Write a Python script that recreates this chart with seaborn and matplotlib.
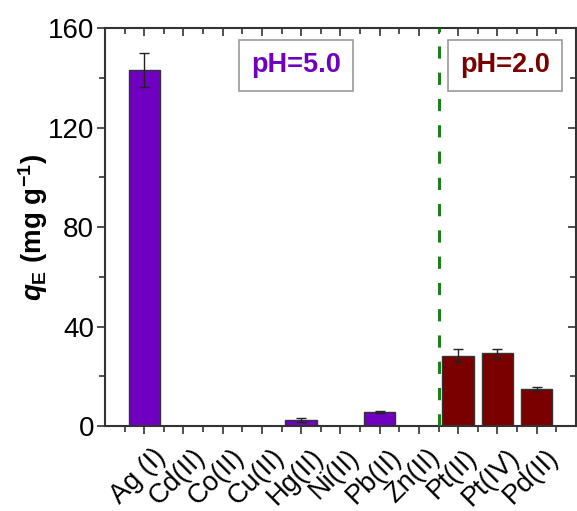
import matplotlib
matplotlib.use("Agg")
import matplotlib.pyplot as plt
import matplotlib.transforms as mtransforms
import seaborn as sns
import pandas as pd
import numpy as np
from matplotlib.ticker import MultipleLocator, FixedLocator

# Adsorption capacity per metal ion
ions = ["Ag (I)", "Cd(II)", "Co(II)", "Cu(II)", "Hg(II)", "Ni(II)",
        "Pb(II)", "Zn(II)", "Pt(II)", "Pt(IV)", "Pd(II)"]
q_e = [143.2, 0, 0, 0, 2.4, 0, 5.5, 0, 28.3, 29.2, 14.7]
q_err = [6.7, 0, 0, 0, 0.7, 0, 0.4, 0, 2.5, 1.8, 0.8]
ph_group = ["pH=5.0"] * 8 + ["pH=2.0"] * 3

PURPLE = "#6F00C2"
DARKRED = "#7A0000"
GREEN = "#1C7F1C"
AXIS = "#333333"

sns.set_theme(style="white")
plt.rcParams["font.family"] = ["Liberation Sans", "DejaVu Sans"]
plt.rcParams["text.color"] = "black"
plt.rcParams["axes.labelcolor"] = "black"
plt.rcParams["xtick.color"] = AXIS
plt.rcParams["ytick.color"] = AXIS
plt.rcParams["xtick.labelcolor"] = "black"
plt.rcParams["ytick.labelcolor"] = "black"
plt.rcParams["mathtext.fontset"] = "custom"
plt.rcParams["mathtext.it"] = "Liberation Sans:italic:bold"
plt.rcParams["mathtext.rm"] = "Liberation Sans:bold"
plt.rcParams["mathtext.bf"] = "Liberation Sans:bold"

df = pd.DataFrame({"ion": ions, "q": q_e, "err": q_err, "group": ph_group})

fig = plt.figure(figsize=(5.77, 5.11), dpi=100)
ax = fig.add_axes([0.182, 0.1663, 0.816, 0.7787])

sns.barplot(data=df, x="ion", y="q", hue="group",
            palette={"pH=5.0": PURPLE, "pH=2.0": DARKRED},
            order=ions, hue_order=["pH=5.0", "pH=2.0"],
            width=0.8, errorbar=None, legend=False, saturation=1,
            edgecolor=AXIS, linewidth=1.0, ax=ax)

# error bars at the bar centres
centers = {}
for p in ax.patches:
    if p.get_width() > 0:
        cx = p.get_x() + p.get_width() / 2
        centers[round(cx)] = cx
xs = np.array([centers[i] for i in range(len(ions))])
mask = np.array(q_err) > 0
ax.errorbar(xs[mask], np.array(q_e)[mask], yerr=np.array(q_err)[mask],
            fmt="none", ecolor="#222222", elinewidth=1.0, capsize=3.5, capthick=1.0)

ax.axvline(7.5, color=GREEN, linestyle=(0, (4, 4.6)), linewidth=2.2, zorder=3)

ax.set_xlim(-1, 11)
ax.set_ylim(0, 160)
ax.yaxis.set_major_locator(MultipleLocator(40))
ax.yaxis.set_minor_locator(MultipleLocator(20))
ax.set_xticks(range(len(ions)))
ax.set_xticklabels(ions, rotation=45, ha="center", va="top", fontsize=19.5)
ax.xaxis.set_minor_locator(FixedLocator([-1 + 0.5 * k for k in range(25) if k % 2 == 1]))

for side in ["left", "right", "top", "bottom"]:
    ax.spines[side].set_visible(True)
    ax.spines[side].set_color(AXIS)
    ax.spines[side].set_linewidth(1.5)

ax.tick_params(axis="both", which="both", width=1.2)
ax.tick_params(axis="x", which="major", direction="out", length=6, bottom=True,
               top=True, pad=7)
ax.tick_params(axis="x", which="minor", direction="out", length=4, bottom=True, top=True)
ax.tick_params(axis="y", which="major", direction="out", length=6, left=True,
               right=True, labelsize=20, pad=2)
ax.tick_params(axis="y", which="minor", direction="out", length=4, left=True, right=True)
# inward ticks on the top and right sides
for t in ax.xaxis.get_major_ticks() + ax.xaxis.get_minor_ticks():
    t.tick2line.set_marker(matplotlib.lines.TICKDOWN)
for t in ax.yaxis.get_major_ticks() + ax.yaxis.get_minor_ticks():
    t.tick2line.set_marker(matplotlib.lines.TICKLEFT)

# nudge the rotated category labels slightly left
shift = mtransforms.ScaledTranslation(-6 / 100, 0, fig.dpi_scale_trans)
for lbl in ax.xaxis.get_majorticklabels():
    lbl.set_transform(lbl.get_transform() + shift)

ax.set_xlabel("")
ax.set_ylabel(r"$q_\mathrm{E}$ (mg g$^{-1}$)", fontsize=20, fontweight="bold", labelpad=-2)

box = dict(boxstyle="square,pad=0.45", fc="white", ec="#999999", lw=1.2)
ax.text(3.87, 145, "pH=5.0", color=PURPLE, fontsize=19.5, fontweight="bold",
        ha="center", va="center", bbox=box)
ax.text(9.2, 145, "pH=2.0", color=DARKRED, fontsize=19.5, fontweight="bold",
        ha="center", va="center", bbox=box)

fig.savefig("out.png", dpi=100)
